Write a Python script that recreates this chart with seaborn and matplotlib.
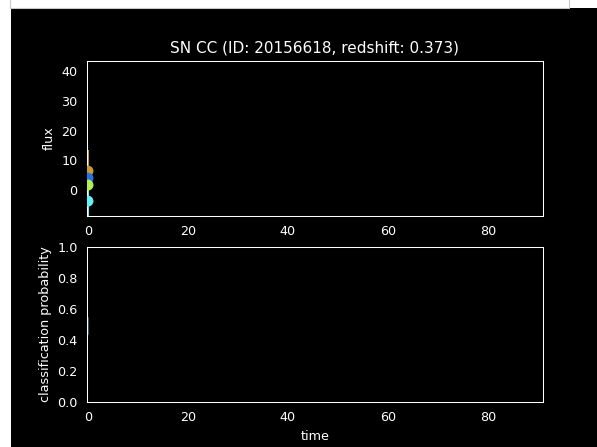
"""light curve + classification probability plot"""

import pandas as pd
import matplotlib.pyplot as plt
import seaborn as sns
from matplotlib.patches import Rectangle

title = "SN CC (ID: 20156618, redshift: 0.373)"

bands = ["b0", "b1", "b2", "b3"]
band_colors = ["#c99a2c", "#1f74f0", "#b4f04e", "#62f2f2"]
obs_time = [0.0, 0.0, 0.0, 0.0]
obs_flux = [6.4, 4.0, 1.7, -3.7]
obs_err = [7.1, 1.0, 1.0, 6.3]

prob_time = [0.0, 0.0]
prob_vals = [0.44, 0.54]

x_ticks = [0, 20, 40, 60, 80]
flux_ticks = [0, 10, 20, 30, 40]
prob_ticks = [0.0, 0.2, 0.4, 0.6, 0.8, 1.0]


def lightcurve_graph():
    df = pd.DataFrame({"time": obs_time, "flux": obs_flux, "err": obs_err, "band": bands})
    probs = pd.DataFrame({"time": prob_time, "prob": prob_vals})

    sns.set_theme(style="dark")
    plt.style.use("dark_background")
    plt.rcParams["font.family"] = ["DejaVu Sans"]
    plt.rcParams["font.size"] = 9.2
    plt.rcParams["axes.labelsize"] = 9.2
    plt.rcParams["axes.linewidth"] = 0.75

    fig, (ax1, ax2) = plt.subplots(2, 1, figsize=(5.97, 4.47), dpi=100)
    fig.patch.set_facecolor("black")
    fig.subplots_adjust(left=87 / 597, right=543 / 597, top=1 - 61 / 447,
                        bottom=1 - 402 / 447, hspace=0.2)

    # white strips from the screenshot around the figure
    fig.patches.append(Rectangle((0, 0), 11 / 597, 1, transform=fig.transFigure,
                                 facecolor="white", edgecolor="none", zorder=-1))
    fig.patches.append(Rectangle((0, 1 - 8 / 447), 1, 8 / 447, transform=fig.transFigure,
                                 facecolor="white", edgecolor="none", zorder=-1))
    fig.patches.append(Rectangle((10 / 597, 1 - 7.5 / 447), 559 / 597, 12 / 447,
                                 transform=fig.transFigure, facecolor="white",
                                 edgecolor="#c8c8c8", lw=0.8, zorder=-1))

    for i, row in df.iterrows():
        ax1.errorbar(row["time"], row["flux"], yerr=row["err"], fmt="none",
                     ecolor=band_colors[i], elinewidth=1.4)
    sns.scatterplot(data=df, x="time", y="flux", hue="band", palette=band_colors,
                    s=62, edgecolor="none", legend=False, ax=ax1, zorder=3)

    sns.lineplot(data=probs, x="time", y="prob", estimator=None, color="#34495e",
                 lw=1.6, ax=ax2)

    ax1.set_title(title, fontsize=11, color="white")
    ax1.set_xlim(-0.2, 91)
    ax2.set_xlim(-0.2, 91)
    ax1.set_ylim(-8.7, 43.4)
    ax2.set_ylim(0, 1)
    ax1.set_xticks(x_ticks)
    ax2.set_xticks(x_ticks)
    ax1.set_yticks(flux_ticks)
    ax2.set_yticks(prob_ticks)
    ax1.set_xlabel("")
    ax1.set_ylabel("flux", fontsize=9.2)
    ax2.set_xlabel("time", fontsize=9.2)
    ax2.set_ylabel("classification probability", fontsize=9.2)
    for ax in (ax1, ax2):
        ax.set_facecolor("black")
        ax.grid(False)
        for s in ax.spines.values():
            s.set_color("white")
            s.set_linewidth(0.75)
        ax.tick_params(colors="white", length=3.2, width=0.75, labelsize=9.2)

    plt.savefig("out.png", dpi=100, facecolor=fig.get_facecolor())
    plt.close()


lightcurve_graph()
